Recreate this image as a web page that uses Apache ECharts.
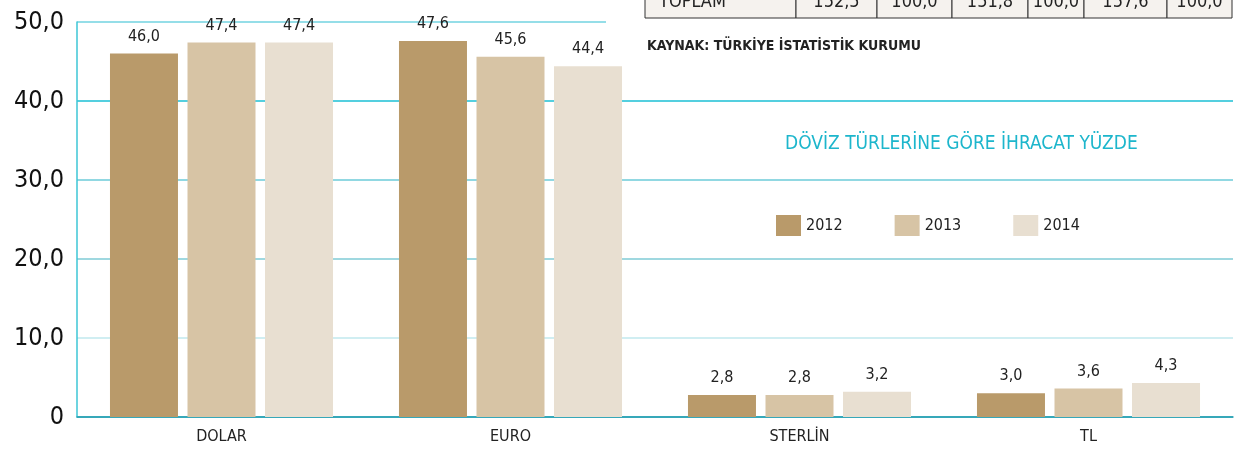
<!DOCTYPE html>
<html>
<head>
<meta charset="utf-8">
<title>ECharts</title>
<script src="https://cdn.jsdelivr.net/npm/echarts@6/dist/echarts.min.js"></script>
<style>
	body { margin: 0; background: #fff; }
</style>
</head>
<body>
	<div id="main" style="width: 1253px; height: 452px;"></div>
	<script type="text/javascript">
		var categories = ['DOLAR', 'EURO', 'STERLİN', 'TL'];
		var years = ['2012', '2013', '2014'];
		var v2012 = [46.0, 47.6, 2.8, 3.0];
		var v2013 = [47.4, 45.6, 2.8, 3.6];
		var v2014 = [47.4, 44.4, 3.2, 4.3];
		// tablonun görünen son satırı
		var tableRow = ['TOPLAM', '152,5', '100,0', '151,8', '100,0', '157,6', '100,0'];
		var tableCols = [645, 796, 877, 952, 1028, 1084, 1167, 1232];

		var FONT = '"Liberation Sans Narrow", "DejaVu Sans Condensed", "Roboto Condensed", Roboto, sans-serif';
		var colors = ['#b99a6a', '#d7c4a5', '#e8dfd1'];

		var fmt = function (v) {
			return Number(v).toFixed(1).replace('.', ',');
		};

		var myChart = echarts.init(document.getElementById('main'));

		var makeSeries = function (name, data) {
			return {
				name: name,
				type: 'bar',
				data: data,
				barWidth: 68,
				barGap: '14%',
				label: {
					show: true,
					position: 'top',
					distance: 9,
					formatter: function (p) { return fmt(p.value); },
					fontFamily: FONT,
					fontSize: 16,
					color: '#222'
				}
			};
		};

		// tablo hücreleri
		var graphics = [];
		for (var i = 0; i < tableCols.length - 1; i++) {
			graphics.push({
				type: 'rect',
				shape: { x: tableCols[i], y: -20, width: tableCols[i + 1] - tableCols[i], height: 38 },
				style: { fill: '#f5f2ee', stroke: '#333', lineWidth: 1 }
			});
			graphics.push({
				type: 'text',
				x: i === 0 ? tableCols[i] + 14 : (tableCols[i] + tableCols[i + 1]) / 2,
				y: 2,
				style: {
					text: tableRow[i],
					textAlign: i === 0 ? 'left' : 'center',
					textVerticalAlign: 'middle',
					fontFamily: FONT,
					fontSize: 18,
					fill: '#222'
				}
			});
		}
		graphics.push({
			type: 'text',
			x: 647,
			y: 46,
			style: {
				text: 'KAYNAK: TÜRKİYE İSTATİSTİK KURUMU',
				textVerticalAlign: 'middle',
				fontFamily: FONT,
				fontWeight: 'bold',
				fontSize: 14,
				fill: '#222'
			}
		});

		option = {
			color: colors,
			animation: false,
			title: {
				text: 'DÖVİZ TÜRLERİNE GÖRE İHRACAT YÜZDE',
				left: 785,
				top: 135,
				padding: 0,
				textStyle: {
					fontFamily: FONT,
					fontWeight: 'normal',
					fontSize: 19,
					color: '#1db6cc'
				}
			},
			legend: {
				data: years,
				left: 776,
				top: 215,
				padding: 0,
				icon: 'rect',
				itemWidth: 25,
				itemHeight: 21,
				itemGap: 52,
				textStyle: { fontFamily: FONT, fontSize: 16, color: '#222' }
			},
			grid: { left: 77, right: 20, top: 22, bottom: 35 },
			xAxis: {
				type: 'category',
				data: categories,
				axisLine: { lineStyle: { color: '#2aa3b5', width: 1.5 } },
				axisTick: { show: false },
				axisLabel: { fontFamily: FONT, fontSize: 16, color: '#222', margin: 12 }
			},
			yAxis: {
				type: 'value',
				min: 0,
				max: 50,
				interval: 10,
				axisLine: { show: true, lineStyle: { color: '#3cc6d6', width: 1.5 } },
				axisTick: { show: false },
				axisLabel: {
					fontFamily: FONT,
					fontSize: 25,
					color: '#111',
					margin: 13,
					formatter: function (v) { return v === 0 ? '0' : fmt(v); }
				},
				splitLine: {
					lineStyle: {
						color: ['#2aa3b5', '#c0e8ee', '#7fcbd6', '#6ccbd9', '#1bbfd4', 'rgba(0,0,0,0)'],
						width: 1.5
					}
				}
			},
			graphic: graphics,
			series: [
				makeSeries(years[0], v2012),
				makeSeries(years[1], v2013),
				makeSeries(years[2], v2014)
			]
		};
		myChart.setOption(option);

		// üst kılavuz çizgisi tablonun soluna kadar
		var yTop = myChart.convertToPixel({ yAxisIndex: 0 }, 50);
		graphics.push({
			type: 'line',
			shape: { x1: 77, y1: yTop, x2: 606, y2: yTop },
			style: { stroke: '#72d3e0', lineWidth: 1.5 }
		});
		myChart.setOption({ graphic: graphics });
	</script>
</body>
</html>
